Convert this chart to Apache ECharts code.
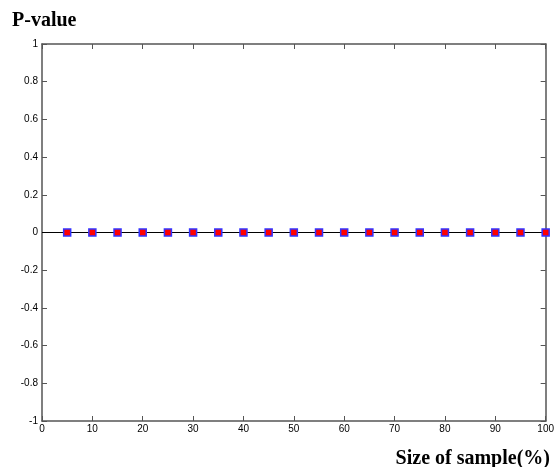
<!DOCTYPE html>
<html><head><meta charset="utf-8">
<script src="https://cdn.jsdelivr.net/npm/echarts@6/dist/echarts.min.js"></script>
<style>html,body{margin:0;padding:0;background:#fff}#c{width:557px;height:467px}</style>
</head><body><div id="c"></div>
<script>
const sampleSizes = [5,10,15,20,25,30,35,40,45,50,55,60,65,70,75,80,85,90,95,100];
const pValues = [0,0,0,0,0,0,0,0,0,0,0,0,0,0,0,0,0,0,0,0];
const xTicks = [0,10,20,30,40,50,60,70,80,90,100];
const yTicks = [-1,-0.8,-0.6,-0.4,-0.2,0,0.2,0.4,0.6,0.8,1];

const chart = echarts.init(document.getElementById('c'));
const axisLine = {show:true, onZero:false, lineStyle:{color:'#555', width:1.5}};
const tickStyle = {show:true, inside:true, length:5, lineStyle:{color:'#555', width:1}};
const lblFont = {fontFamily:'Liberation Sans, Arial, sans-serif', fontSize:10, color:'#000'};
chart.setOption({
  animation:false,
  backgroundColor:'#fff',
  title:{text:'P-value', left:7, top:6, textStyle:{fontFamily:'Liberation Serif, Times New Roman, serif', fontWeight:'bold', fontSize:20, color:'#000'}},
  graphic:[{type:'text', right:7, top:449, style:{text:'Size of sample(%)', font:'bold 20px "Liberation Serif", serif', fill:'#000'}}],
  grid:{left:42, right:10, top:44, bottom:46},
  xAxis:[
    {type:'value', min:0, max:100, interval:10, position:'bottom', axisLine, axisTick:tickStyle, splitLine:{show:false},
     axisLabel:Object.assign({margin:3, formatter:v=>xTicks.includes(v)?String(v):''}, lblFont)},
    {type:'value', min:0, max:100, interval:10, position:'top', axisLine, axisTick:tickStyle, splitLine:{show:false}, axisLabel:{show:false}}
  ],
  yAxis:[
    {type:'value', min:-1, max:1, interval:0.2, position:'left', axisLine, axisTick:tickStyle, splitLine:{show:false},
     axisLabel:Object.assign({margin:4, formatter:v=>{const r=Math.round(v*10)/10; return yTicks.includes(r)?String(r):'';}}, lblFont)},
    {type:'value', min:-1, max:1, interval:0.2, position:'right', axisLine, axisTick:tickStyle, splitLine:{show:false}, axisLabel:{show:false}}
  ],
  series:[
    {type:'line', data:[[0,0],[100,0]], symbol:'none', lineStyle:{color:'#000', width:1}, silent:true, z:1},
    {type:'line', data:sampleSizes.map((x,i)=>[x,pValues[i]]), symbol:'rect', symbolSize:7, z:3,
     itemStyle:{color:'#ff0000', borderColor:'#3333ff', borderWidth:1.5}, lineStyle:{color:'#000', width:1}}
  ]
});
</script></body></html>
